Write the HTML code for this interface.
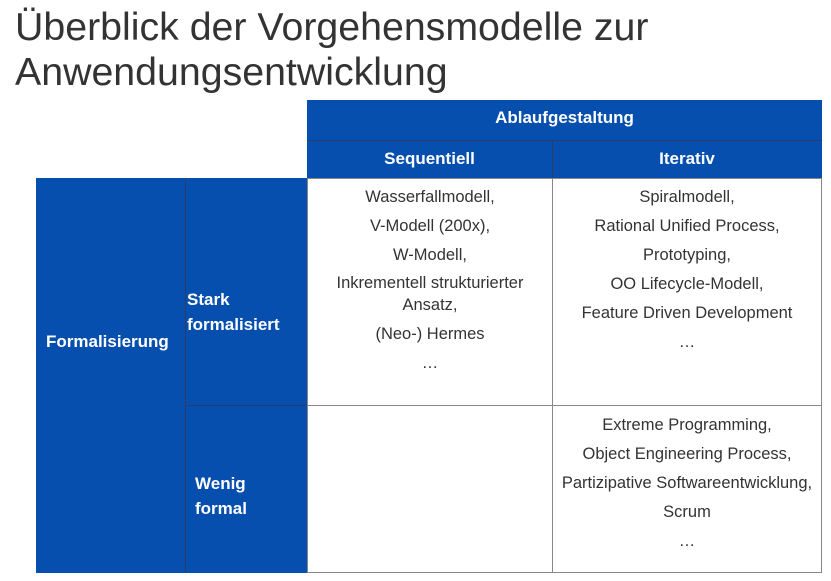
<!DOCTYPE html>
<html><head><meta charset="utf-8"><style>
body{margin:0;width:831px;height:581px;background:#fff;position:relative;overflow:hidden;font-family:"Liberation Sans",sans-serif}
.t{position:absolute;left:15px;top:5px;font-size:39.3px;line-height:45px;color:#333;white-space:nowrap}
.b{position:absolute;background:#064fae}
.w{position:absolute;background:#fff;border:1px solid #888;box-sizing:border-box}
.h{position:absolute;color:#fff;font-weight:bold;font-size:17px;font-family:"Liberation Sans",sans-serif;white-space:nowrap}
.c{position:absolute;text-align:center;color:#333;font-size:17px;line-height:29px;font-family:"Liberation Sans",sans-serif;white-space:nowrap;transform:scaleX(0.97)}
.l{position:absolute;background:#2a3d6a}
</style></head><body>
<div class="t">Überblick der Vorgehensmodelle zur<br>Anwendungsentwicklung</div>
<div class="b" style="left:307px;top:100px;width:515px;height:78px"></div>
<div class="l" style="left:307px;top:140px;width:515px;height:1px"></div>
<div class="l" style="left:552px;top:140px;width:1px;height:38px"></div>
<div class="b" style="left:36px;top:178px;width:271px;height:395px"></div>
<div class="l" style="left:185px;top:178px;width:1px;height:395px"></div>
<div class="l" style="left:185px;top:405px;width:122px;height:1px"></div>
<div class="w" style="left:307px;top:178px;width:246px;height:228px"></div>
<div class="w" style="left:552px;top:178px;width:270px;height:228px"></div>
<div class="w" style="left:307px;top:405px;width:246px;height:168px"></div>
<div class="w" style="left:552px;top:405px;width:270px;height:168px"></div>
<div class="h" style="left:307px;width:515px;text-align:center;top:108px">Ablaufgestaltung</div>
<div class="h" style="left:307px;width:245px;text-align:center;top:149px">Sequentiell</div>
<div class="h" style="left:552px;width:270px;text-align:center;top:149px">Iterativ</div>
<div class="h" style="left:46px;top:332px">Formalisierung</div>
<div class="h" style="left:187px;top:287px;line-height:25px">Stark<br>formalisiert</div>
<div class="h" style="left:195px;top:471px;line-height:25px">Wenig<br>formal</div>
<div class="c" style="left:307px;width:246px;top:182px">Wasserfallmodell,<br>V-Modell (200x),<br>W-Modell,<br><span style="line-height:22px;display:inline-block;margin-top:3px">Inkrementell strukturierter<br>Ansatz,</span><br>(Neo-) Hermes<br>…</div>
<div class="c" style="left:552px;width:270px;top:182px">Spiralmodell,<br>Rational Unified Process,<br>Prototyping,<br>OO Lifecycle-Modell,<br>Feature Driven Development<br>…</div>
<div class="c" style="left:552px;width:270px;top:410px">Extreme Programming,<br>Object Engineering Process,<br>Partizipative Softwareentwicklung,<br>Scrum<br>…</div>
</body></html>
